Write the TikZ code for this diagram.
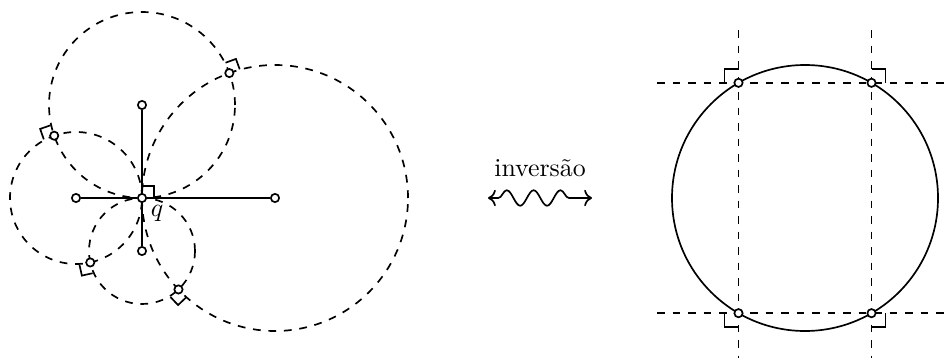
\documentclass[tikz,border=0pt]{standalone}
\usepackage{tikz}
\usetikzlibrary{calc, positioning, backgrounds, decorations.pathmorphing, arrows.meta}

\begin{document}
\begin{tikzpicture}[x=0.136mm, y=0.136mm, every path/.style={line width=0.65pt},
    pt/.style={circle, draw, fill=white, inner sep=0pt, minimum size=3.2pt},
    wave/.style={decorate, decoration={snake, amplitude=3pt, segment length=10.4pt, pre length=4pt, post length=5pt}}]
  \useasboundingbox (-142,-160) rectangle (802,198);
  % left: circles through q
  \node[pt] (q) at (0,0) {};
  \node[pt] (ct) at (0,93) {};
  \node[pt] (cb) at (0,-53) {};
  \node[pt] (cl) at (-66,0) {};
  \node[pt] (cr) at (133,0) {};
  \node (ql) at (15,-15) {$q$};
  \begin{scope}[on background layer]
    \draw[dashed] (ct) circle[radius=93];
    \draw[dashed] (cb) circle[radius=53];
    \draw[dashed] (cl) circle[radius=66];
    \draw[dashed] (cr) circle[radius=133];
  \end{scope}
  \draw (ct) -- (q);
  \draw (cb) -- (q);
  \draw (cl) -- (q);
  \draw (cr) -- (q);
  \draw ($(q)+(0,12)$) -- ++(12,0) -- ++(0,-12);
  \foreach \m/\k/\n in {ct/cr/1, cl/ct/2, cb/cl/3, cr/cb/4}{
    \coordinate (f\n) at ($(\m)!(q)!(\k)$);
    \coordinate (p\n) at ($(q)!2!(f\n)$);
    \coordinate (u\n) at ($(p\n)!-1.5mm!(\m)$);
    \coordinate (v\n) at ($(p\n)!-1.5mm!(\k)$);
    \draw (u\n) -- ($(u\n)+(v\n)-(p\n)$) -- (v\n);
    \node[pt] (i\n) at (p\n) {};
  }
  % middle
  \coordinate (wl) at (346,0);
  \coordinate (wr) at (450,0);
  \draw[<->, wave] (wl) -- (wr);
  \node[above=4.5pt] (lbl) at ($(wl)!.5!(wr)$) {inversão};
  % right: circle and lines
  \coordinate (o) at (663,0);
  \coordinate (top) at (0,168);
  \coordinate (bot) at (0,-160);
  \coordinate (lft) at (515,0);
  \coordinate (rgt) at (802,0);
  \foreach \n/\a in {1/120, 2/60, 3/240, 4/300}
    \node[pt] (a\n) at ($(o)+(\a:133)$) {};
  \begin{scope}[on background layer]
    \draw (o) circle[radius=133];
    \draw[dashed] (a1 |- top) -- (a1 |- bot);
    \draw[dashed] (a2 |- top) -- (a2 |- bot);
    \draw[dashed] (lft |- a1) -- (rgt |- a1);
    \draw[dashed] (lft |- a3) -- (rgt |- a3);
  \end{scope}
  \foreach \n/\sx/\sy in {1/-1/1, 2/1/1, 3/-1/-1, 4/1/-1}
    \draw ($(a\n)+(\sx*14,0)$) -- ++(0,\sy*14) -- ++(-\sx*14,0);
\end{tikzpicture}
\end{document}
